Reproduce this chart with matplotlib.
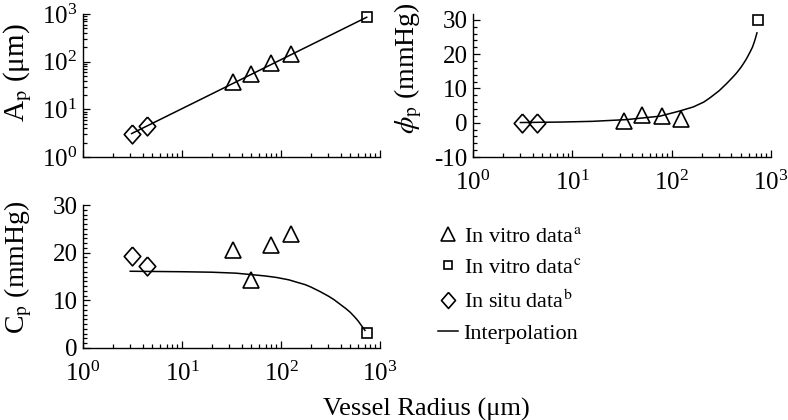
import numpy as np
import matplotlib.pyplot as plt
from matplotlib.lines import Line2D
from matplotlib.ticker import MultipleLocator, LogLocator

plt.rcParams['font.family'] = ['Liberation Serif', 'DejaVu Serif']
plt.rcParams['mathtext.fontset'] = 'stix'
plt.rcParams['axes.unicode_minus'] = False

# vessel radius (um) of each data group
r_situ = [3.1, 4.4]            # in situ data (b)
r_vitro_a = [33, 50, 80, 125]  # in vitro data (a)
r_vitro_c = [734]              # in vitro data (c)

# A_p (um)
ap_situ = [2.97, 4.5]
ap_vitro_a = [36.8, 55, 94, 148]
ap_vitro_c = [855]
ap_fit_r = [3.1, 734]
ap_fit = [3.1, 855]

# phi_p (mmHg)
phi_situ = [0.0, 0.0]
phi_vitro_a = [0.6, 2.3, 2.0, 1.2]
phi_vitro_c = [30.0]
phi_fit_r = [3, 8, 16, 35, 76, 120, 165, 210, 244, 300, 357, 410, 450, 500,
             527, 560, 590, 620, 650, 680, 700, 722]
phi_fit = [0.05, 0.2, 0.4, 0.9, 1.9, 3.4, 4.6, 6.0, 7.3, 9.3, 11.4, 13.2, 14.5, 16.2,
           17.2, 18.4, 19.6, 20.8, 22.0, 23.6, 24.8, 26.2]

# C_p (mmHg)
cp_situ = [19.3, 17.3]
cp_vitro_a = [20.5, 14.3, 21.6, 23.9]
cp_vitro_c = [3.1]
cp_fit_r = [3, 10, 20, 35, 50, 70, 90, 120, 150, 175, 200, 250, 300, 340, 400,
            450, 500, 550, 600, 650, 705]
cp_fit = [16.1, 16.0, 15.9, 15.7, 15.4, 15.1, 14.8, 14.3, 13.7, 13.3, 12.8, 11.8,
          10.9, 10.2, 9.1, 8.3, 7.5, 6.6, 5.7, 4.7, 3.7]

diamond = [(0, 1), (0.88, 0), (0, -1), (-0.88, 0), (0, 1)]
mk_tri = dict(marker='^', ms=12, mfc='none', mec='k', mew=1.2, ls='none')
mk_sq = dict(marker='s', ms=7.5, mfc='none', mec='k', mew=1.2, ls='none')
mk_dia = dict(marker=diamond, ms=13.5, mfc='none', mec='k', mew=1.2, ls='none')

fig = plt.figure(figsize=(7.88, 4.2), dpi=100)
ax1 = fig.add_axes([83/788, 1-157/420, 297/788, 143/420])
ax2 = fig.add_axes([473/788, 1-157/420, 298/788, 143/420])
ax3 = fig.add_axes([83/788, 1-348/420, 297/788, 143/420])


def style(ax):
    ax.spines['right'].set_visible(False)
    ax.spines['top'].set_visible(False)
    ax.spines['left'].set_linewidth(1.0)
    ax.spines['bottom'].set_linewidth(1.0)
    ax.set_xscale('log')
    ax.set_xlim(1, 1000)
    ax.xaxis.set_minor_locator(LogLocator(base=10, subs=np.arange(2, 10)))
    ax.tick_params(which='both', direction='in', top=False, right=False,
                   labelsize=18, width=0.9)
    ax.tick_params(which='major', length=5)
    ax.tick_params(which='minor', length=3)
    ax.tick_params(axis='x', pad=10)
    ax.tick_params(axis='y', pad=4)


for ax in (ax1, ax2, ax3):
    style(ax)

# A_p
ax1.plot(ap_fit_r, ap_fit, 'k-', lw=1.1)
ax1.plot(r_vitro_a, ap_vitro_a, clip_on=False, **mk_tri)
ax1.plot(r_vitro_c, ap_vitro_c, clip_on=False, **mk_sq)
ax1.plot(r_situ, ap_situ, clip_on=False, **mk_dia)
ax1.set_yscale('log')
ax1.set_ylim(1, 1000)
ax1.yaxis.set_minor_locator(LogLocator(base=10, subs=np.arange(2, 10)))
ax1.tick_params(axis='x', labelbottom=False)
ax1.set_ylabel(r'A$_\mathrm{p}$ (μm)', fontsize=21)
ax1.yaxis.set_label_coords(-0.165, 0.59)

# phi_p
ax2.plot(phi_fit_r, phi_fit, 'k-', lw=1.1)
ax2.plot(r_vitro_a, phi_vitro_a, clip_on=False, **mk_tri)
ax2.plot(r_vitro_c, phi_vitro_c, clip_on=False, **mk_sq)
ax2.plot(r_situ, phi_situ, clip_on=False, **mk_dia)
ax2.set_ylim(-10, 31.7)
ax2.set_yticks([-10, 0, 10, 20, 30])
ax2.yaxis.set_minor_locator(MultipleLocator(2))
ax2.set_ylabel(r'$\phi_\mathrm{p}$ (mmHg)', fontsize=20)
ax2.yaxis.set_label_coords(-0.165, 0.62)

# C_p
ax3.plot(cp_fit_r, cp_fit, 'k-', lw=1.1)
ax3.plot(r_vitro_a, cp_vitro_a, clip_on=False, **mk_tri)
ax3.plot(r_vitro_c, cp_vitro_c, clip_on=False, **mk_sq)
ax3.plot(r_situ, cp_situ, clip_on=False, **mk_dia)
ax3.set_ylim(0, 30)
ax3.set_yticks([0, 10, 20, 30])
ax3.yaxis.set_minor_locator(MultipleLocator(1))
ax3.set_ylabel(r'C$_\mathrm{p}$ (mmHg)', fontsize=20)
ax3.yaxis.set_label_coords(-0.165, 0.56)

fig.text(323/788, 1-416/420, 'Vessel Radius (μm)', fontsize=19,
         ha='left', va='baseline')

handles = [Line2D([], [], **mk_tri), Line2D([], [], **mk_sq),
           Line2D([], [], **mk_dia), Line2D([], [], color='k', lw=1.1)]
labels = [r'In vitro data$^\mathrm{a}$', r'In vitro data$^\mathrm{c}$',
          r'In situ data$^\mathrm{b}$', 'Interpolation']
fig.legend(handles, labels, loc='upper left', bbox_to_anchor=(438/788, 1-226/420),
           frameon=False, fontsize=16, handlelength=0.9, handletextpad=0.25,
           labelspacing=0.5, borderpad=0, borderaxespad=0, markerscale=0.85)

fig.savefig('out.png', dpi=100)
